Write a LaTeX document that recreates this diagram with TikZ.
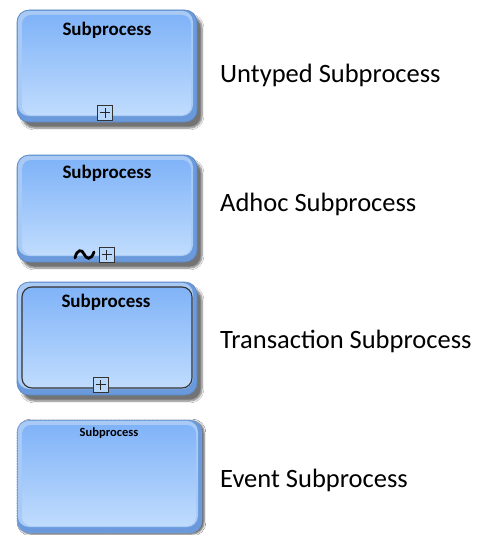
\documentclass[tikz,border=0pt]{standalone}
\usepackage{fontspec}
\setmainfont{Carlito}
\usetikzlibrary{shadows.blur}

\definecolor{facetop}{HTML}{80B3F8}
\definecolor{facebot}{HTML}{C0DCFD}
\definecolor{rimlight}{HTML}{A8CAF5}
\definecolor{rimdark}{HTML}{6A9ADC}
\definecolor{rimedge}{HTML}{5B88C6}
\definecolor{markfill}{HTML}{B9D6FB}

\tikzset{
  boxshadow/.style={blur shadow={shadow xshift=5pt, shadow yshift=-6pt,
      shadow blur steps=6, shadow blur extra rounding=2pt, shadow opacity=55}},
  title/.style={font=\bfseries\fontsize{19}{21}\selectfont, inner sep=0pt},
  smalltitle/.style={font=\bfseries\fontsize{12.5}{14}\selectfont, inner sep=0pt},
  caption/.style={font=\fontsize{26.5}{30}\selectfont, anchor=west, inner sep=0pt},
  marker/.style={draw=black!80, line width=0.9pt, fill=markfill},
}

% bevelled subprocess body: #2,#3 top-left corner, #4,#5 bottom-right corner
\newcommand\spbody[5][]{%
  \fill[rimdark, draw=rimedge, line width=0.6pt, rounded corners=12pt, boxshadow, #1]
    (#2,#3) rectangle (#4,#5);
  \fill[rimlight, rounded corners=11pt] (#2+0.8,#3+0.8) rectangle (#4-4,#5-6);
  \shade[top color=facetop, bottom color=facebot, rounded corners=9pt]
    (#2+5,#3+5) rectangle (#4-6,#5-7);
}

% collapsed marker: a small square with a plus sign
\newcommand\plusmark[3]{%
  \node[marker, minimum size=15pt, inner sep=0pt] (#1) at (#2,#3) {};
  \draw[black!85, line width=0.8pt] ([xshift=-5pt]#1.center) -- ([xshift=5pt]#1.center);
  \draw[black!85, line width=0.8pt] ([yshift=-5pt]#1.center) -- ([yshift=5pt]#1.center);
}

\begin{document}
\begin{tikzpicture}[x=1pt,y=-1pt]
\useasboundingbox[fill=white] (0,0) rectangle (480,535);

% untyped subprocess
\spbody{17}{10}{197}{122}
\node[title] (t1) at (107,30) {Subprocess};
\plusmark{m1}{105}{112.5}
\node[caption] (c1) at (220,75) {Untyped Subprocess};

% ad-hoc subprocess
\spbody{17}{155}{197}{262}
\node[title] (t2) at (107,173) {Subprocess};
\plusmark{m2}{106.5}{254.5}
\draw[line width=2.8pt, line cap=round]
  (75,258) .. controls (77,249) and (82,249) .. (84,254)
  .. controls (86,259) and (91,261) .. (94,252);
\node[caption] (c2) at (220,204) {Adhoc Subprocess};

% transaction subprocess
\spbody{17}{282}{197}{395}
\draw[black!80, line width=1.1pt, rounded corners=10pt] (22,287) rectangle (192,388);
\node[title] (t3) at (106,302) {Subprocess};
\plusmark{m3}{100.5}{384.5}
\node[caption] (c3) at (220,341) {Transaction Subprocess};

% event subprocess
\spbody[dash pattern=on 1.6pt off 1pt, draw=rimedge!80, blur shadow={shadow xshift=2pt, shadow yshift=-1pt, shadow blur steps=3, shadow opacity=40}]{17}{420}{202}{533}
\node[smalltitle] (t4) at (109,433) {Subprocess};
\node[caption] (c4) at (220,480) {Event Subprocess};
\end{tikzpicture}
\end{document}
